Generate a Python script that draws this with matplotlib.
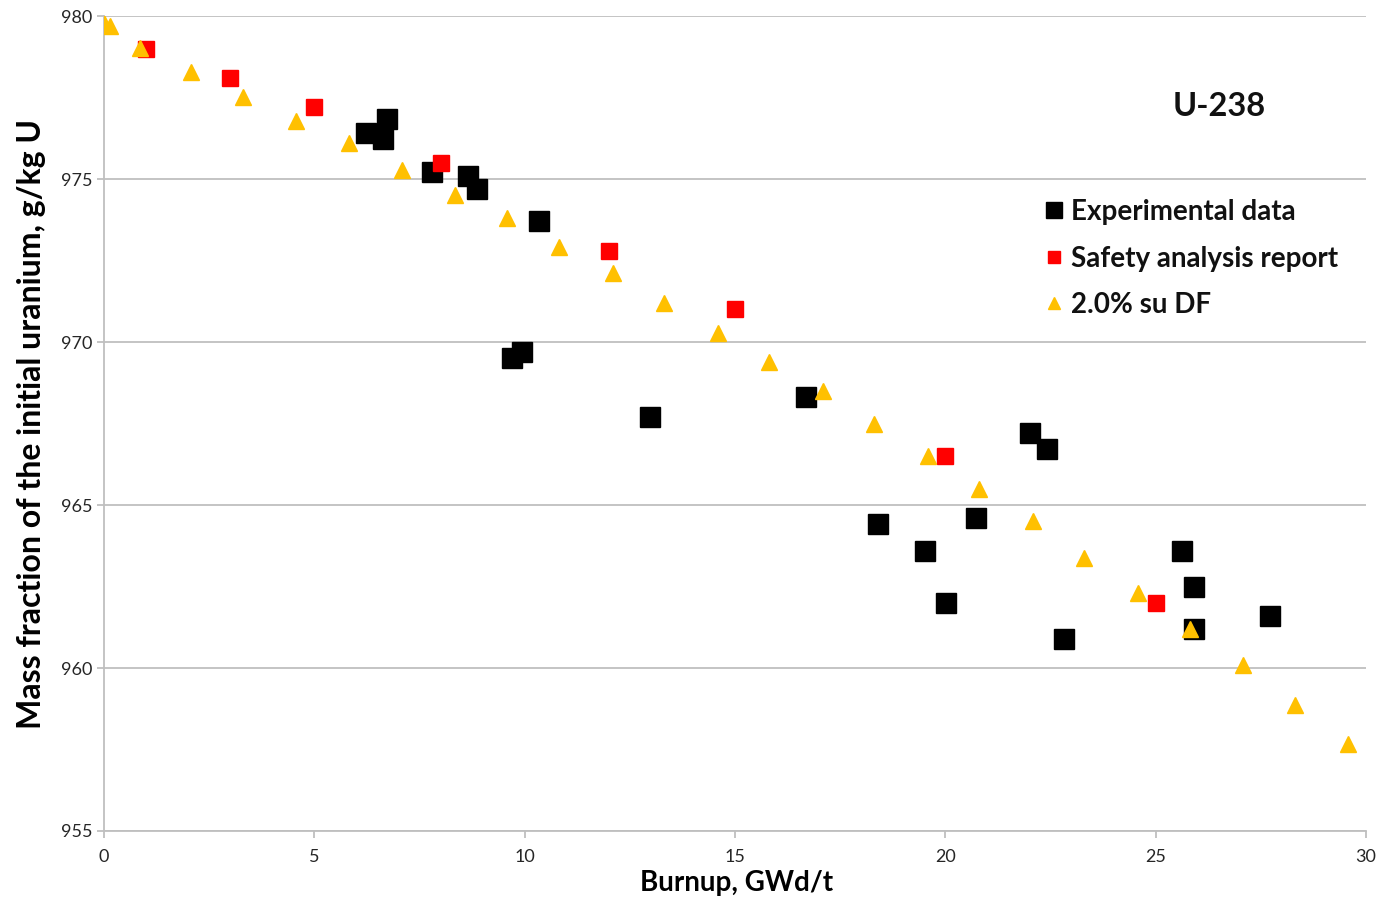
import numpy as np
import matplotlib
matplotlib.use('Agg')
from matplotlib import pyplot as plt

plt.rcParams['font.family'] = ['Lato', 'DejaVu Sans']

# U-238 mass fraction vs burnup
exp_burnup = [6.23, 6.73, 6.63, 7.80, 8.65, 8.87, 10.34, 9.71, 9.93, 12.99,
              16.68, 22.02, 22.41, 18.41, 20.72, 19.51, 20.01, 22.81, 25.62,
              25.91, 25.91, 27.71]
exp_mass = [976.41, 976.84, 976.23, 975.21, 975.09, 974.69, 973.71, 969.50,
            969.68, 967.71, 968.30, 967.20, 966.71, 964.41, 964.59, 963.60,
            962.00, 960.89, 963.60, 962.49, 961.19, 961.60]

sar_burnup = [1, 3, 5, 8, 12, 15, 20, 25]
sar_mass = [979.0, 978.1, 977.2, 975.5, 972.8, 971.0, 966.5, 962.0]

df_burnup = [0.0, 0.15, 0.86, 2.07, 3.30, 4.56, 5.82, 7.08, 8.34, 9.58, 10.82,
             12.10, 13.31, 14.59, 15.81, 17.09, 18.30, 19.59, 20.80, 22.08,
             23.29, 24.58, 25.81, 27.07, 28.31, 29.57]
df_mass = [979.8, 979.7, 979.02, 978.28, 977.52, 976.78, 976.10, 975.28,
           974.51, 973.80, 972.91, 972.12, 971.20, 970.28, 969.39, 968.50,
           967.48, 966.50, 965.49, 964.51, 963.37, 962.30, 961.20, 960.09,
           958.87, 957.67]

fig = plt.figure(figsize=(13.85, 9.01), dpi=100)
ax = fig.add_axes([0.0751, 0.0777, 0.9112, 0.9045])

ax.plot(exp_burnup, exp_mass, 's', color='black', markersize=14,
        label='Experimental data', zorder=3)
ax.plot(sar_burnup, sar_mass, 's', color='#FF0000', markersize=11,
        label='Safety analysis report', zorder=4)
ax.plot(df_burnup, df_mass, '^', color='#FFC000', markersize=12,
        label='2.0% su DF', zorder=5)

ax.set_xlim(0, 30)
ax.set_ylim(955, 980)
ax.set_xticks(np.arange(0, 31, 5))
ax.set_yticks(np.arange(955, 981, 5))
ax.yaxis.grid(True, color='#BFBFBF', linewidth=1.3)
ax.set_axisbelow(True)
for s in ['top', 'right']:
    ax.spines[s].set_visible(False)
for s in ['left', 'bottom']:
    ax.spines[s].set_color('#BFBFBF')
    ax.spines[s].set_linewidth(1.3)
ax.tick_params(axis='both', colors='#BFBFBF', labelcolor='#262626',
               labelsize=13, length=5, width=1.3)
ax.tick_params(axis='x', pad=8)

ax.set_xlabel('Burnup, GWd/t', fontsize=20, fontweight='bold')
ax.set_ylabel('Mass fraction of the initial uranium, g/kg U', fontsize=23,
              fontweight='bold')
ax.xaxis.set_label_coords(0.501, -0.048)
ax.yaxis.set_label_coords(-0.046, 0.5)

ax.text(0.884, 0.889, 'U-238', transform=ax.transAxes, fontsize=23.5,
        fontweight='bold', ha='center', va='center', color='#111111')

leg = ax.legend(loc='upper left', bbox_to_anchor=(0.733, 0.789), frameon=False,
                fontsize=20, handletextpad=0.1, labelspacing=0.74,
                handlelength=1.0, borderaxespad=0)
for t in leg.get_texts():
    t.set_fontweight('bold')
    t.set_color('#111111')
hs = leg.legend_handles
hs[0].set_markersize(11)
hs[1].set_markersize(9)
hs[2].set_markersize(9)

fig.savefig('out.png', dpi=100)
